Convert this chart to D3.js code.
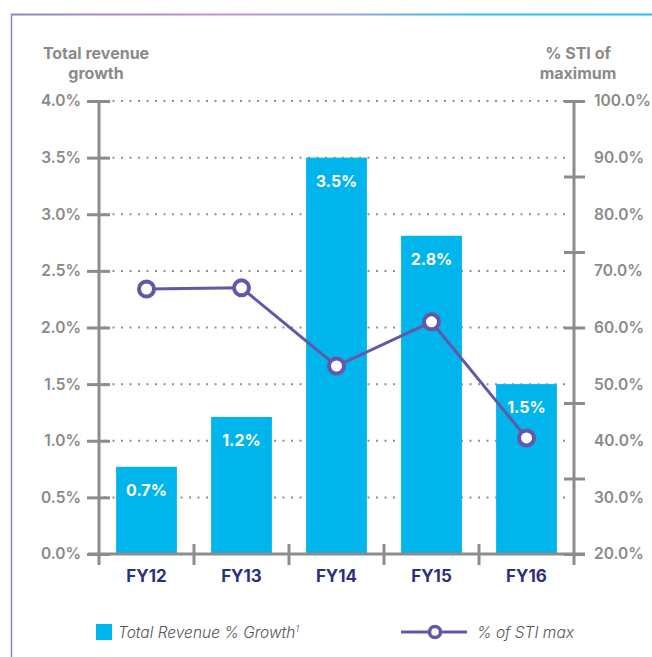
<!DOCTYPE html>
<html>
<head>
<meta charset="utf-8">
<script src="https://cdn.jsdelivr.net/npm/d3@7"></script>
<style>
  body { margin: 0; background: #fff; }
  svg { display: block; font-family: Inter, "Noto Sans", sans-serif; }
</style>
</head>
<body>
<div id="chart-area"></div>
<script>
const categories = ["FY12", "FY13", "FY14", "FY15", "FY16"];
const revenueGrowth = [0.77, 1.21, 3.5, 2.81, 1.5];
const revenueLabels = ["0.7%", "1.2%", "3.5%", "2.8%", "1.5%"];
const stiMax = [66.8, 67.0, 53.2, 61.0, 40.5];
const leftTicks = [0, 0.5, 1, 1.5, 2, 2.5, 3, 3.5, 4];
const rightLabels = [20, 30, 40, 50, 60, 70, 80, 90, 100];

const chartSize = { width: 652, height: 657 };
const plot = { left: 99, right: 574, top: 101, bottom: 554 };
const gray = "#8c8c8c";
const textGray = "#8a8a8a";
const navy = "#2d2f7d";
const cyan = "#00b5ec";
const purple = "#6557a8";
const pctFormat = d => d3.format(".1f")(d) + "%";

const main = () => {
    const svg = d3
        .select("#chart-area")
        .append("svg")
        .attr("width", chartSize.width)
        .attr("height", chartSize.height);

    // frame
    const grad = svg.append("defs").append("linearGradient")
        .attr("id", "frameGrad")
        .attr("x1", "0%").attr("x2", "100%");
    [["0%", "#8f86c9"], ["30%", "#c48dd0"], ["52%", "#9aa3dc"], ["72%", "#2ec3ef"], ["100%", "#22bfee"]]
        .forEach(([o, c]) => grad.append("stop").attr("offset", o).attr("stop-color", c));
    svg.append("rect")
        .attr("x", 11).attr("y", 13.5).attr("width", 641).attr("height", 2)
        .attr("fill", "url(#frameGrad)");
    svg.append("line")
        .attr("x1", 11.5).attr("x2", 11.5).attr("y1", 14).attr("y2", 657)
        .attr("stroke", "#8a84c6").attr("stroke-width", 1.5);

    const x = d3.scaleBand()
        .domain(categories)
        .range([plot.left, plot.right])
        .paddingInner(0.36)
        .paddingOuter(0.18);
    const yLeft = d3.scaleLinear().domain([0, 4]).range([plot.bottom, plot.top]);
    const yRight = d3.scaleLinear().domain([20, 100]).range([plot.bottom, plot.top]);

    // dotted grid
    svg.append("g")
        .selectAll("line")
        .data(leftTicks.filter(d => d > 0))
        .join("line")
        .attr("x1", plot.left + 5).attr("x2", plot.right - 3)
        .attr("y1", d => yLeft(d)).attr("y2", d => yLeft(d))
        .attr("stroke", "#8f8f8f")
        .attr("stroke-width", 2)
        .attr("stroke-dasharray", "2 6.5");

    // bars
    svg.append("g")
        .selectAll("rect")
        .data(categories)
        .join("rect")
        .attr("x", d => x(d))
        .attr("width", x.bandwidth())
        .attr("y", (d, i) => yLeft(revenueGrowth[i]))
        .attr("height", (d, i) => plot.bottom - yLeft(revenueGrowth[i]))
        .attr("fill", cyan);
    svg.append("g")
        .selectAll("text")
        .data(categories)
        .join("text")
        .attr("x", d => x(d) + x.bandwidth() / 2)
        .attr("y", (d, i) => yLeft(revenueGrowth[i]) + 29)
        .attr("text-anchor", "middle")
        .attr("fill", "#fff")
        .attr("font-size", 16)
        .attr("font-weight", 700)
        .text((d, i) => revenueLabels[i]);

    // left axis
    const leftAxis = svg.append("g")
        .attr("transform", `translate(${plot.left},0)`)
        .call(d3.axisLeft(yLeft).tickValues(leftTicks).tickFormat(pctFormat).tickSize(12).tickPadding(6));
    leftAxis.select(".domain").remove();
    leftAxis.selectAll(".tick line").attr("x2", 11).attr("x1", -12).attr("stroke", gray).attr("stroke-width", 3);
    leftAxis.selectAll(".tick text").attr("fill", textGray).attr("font-size", 15.5).attr("font-weight", 600);
    leftAxis.attr("font-family", null);

    // right axis marks and labels
    const rightAxis = svg.append("g")
        .attr("transform", `translate(${plot.right},0)`)
        .call(d3.axisRight(yRight).tickValues(d3.range(7).map(i => 20 + i * 80 / 6)).tickFormat("").tickSize(11));
    rightAxis.select(".domain").remove();
    rightAxis.selectAll(".tick line").attr("x1", -10).attr("stroke", gray).attr("stroke-width", 3);
    const rightText = svg.append("g")
        .attr("transform", `translate(${plot.right},0)`)
        .call(d3.axisRight(yRight).tickValues(rightLabels).tickFormat(pctFormat).tickSize(0).tickPadding(20));
    rightText.select(".domain").remove();
    rightText.selectAll(".tick text").attr("fill", textGray).attr("font-size", 15.5).attr("font-weight", 600);
    rightText.attr("font-family", null);

    // axis lines
    [plot.left, plot.right].forEach(px => {
        svg.append("line")
            .attr("x1", px).attr("x2", px).attr("y1", plot.top).attr("y2", plot.bottom + 11)
            .attr("stroke", gray).attr("stroke-width", 3);
    });

    // bottom axis
    const bottomAxis = svg.append("g")
        .attr("transform", `translate(0,${plot.bottom})`)
        .call(d3.axisBottom(x).tickSize(0).tickPadding(16));
    bottomAxis.select(".domain").remove();
    bottomAxis.selectAll(".tick text").attr("fill", navy).attr("font-size", 17).attr("font-weight", 700);
    bottomAxis.attr("font-family", null);
    svg.append("line")
        .attr("x1", plot.left - 11).attr("x2", plot.right + 11)
        .attr("y1", plot.bottom).attr("y2", plot.bottom)
        .attr("stroke", gray).attr("stroke-width", 3);
    svg.append("g")
        .selectAll("line")
        .data(categories.slice(1))
        .join("line")
        .attr("x1", d => x(d) - x.step() * x.paddingInner() / 2)
        .attr("x2", d => x(d) - x.step() * x.paddingInner() / 2)
        .attr("y1", plot.bottom - 10).attr("y2", plot.bottom + 11)
        .attr("stroke", gray).attr("stroke-width", 3);

    // STI line
    const line = d3.line()
        .x((d, i) => x(categories[i]) + x.bandwidth() / 2)
        .y(d => yRight(d));
    svg.append("path")
        .attr("d", line(stiMax))
        .attr("fill", "none")
        .attr("stroke", purple)
        .attr("stroke-width", 3);
    svg.append("g")
        .selectAll("circle")
        .data(stiMax)
        .join("circle")
        .attr("cx", (d, i) => x(categories[i]) + x.bandwidth() / 2)
        .attr("cy", d => yRight(d))
        .attr("r", 7.5)
        .attr("fill", "#fff")
        .attr("stroke", purple)
        .attr("stroke-width", 4);

    // axis titles
    const titles = [
        { x: 96, lines: ["Total revenue", "growth"] },
        { x: 578, lines: ["% STI of", "maximum"] }
    ];
    titles.forEach(t => {
        t.lines.forEach((s, i) => {
            svg.append("text")
                .attr("x", t.x).attr("y", 59 + i * 20)
                .attr("text-anchor", "middle")
                .attr("fill", textGray)
                .attr("font-size", 16)
                .attr("font-weight", 700)
                .text(s);
        });
    });

    // legend
    svg.append("rect")
        .attr("x", 96).attr("y", 624).attr("width", 16).attr("height", 16)
        .attr("fill", cyan);
    const legText = svg.append("text")
        .attr("x", 118).attr("y", 638)
        .attr("fill", "#555")
        .attr("font-size", 15.5)
        .attr("font-style", "italic")
        .attr("font-weight", 300)
        .text("Total Revenue % Growth");
    legText.append("tspan").attr("font-size", 9).attr("dy", -6).text("1");
    svg.append("line")
        .attr("x1", 401).attr("x2", 467).attr("y1", 632).attr("y2", 632)
        .attr("stroke", purple).attr("stroke-width", 3);
    svg.append("circle")
        .attr("cx", 435).attr("cy", 632).attr("r", 5.5)
        .attr("fill", "#fff").attr("stroke", purple).attr("stroke-width", 3.5);
    svg.append("text")
        .attr("x", 477).attr("y", 638)
        .attr("fill", "#555")
        .attr("font-size", 15.5)
        .attr("font-style", "italic")
        .attr("font-weight", 300)
        .text("% of STI max");
};
window.onload = main;
</script>
</body>
</html>
